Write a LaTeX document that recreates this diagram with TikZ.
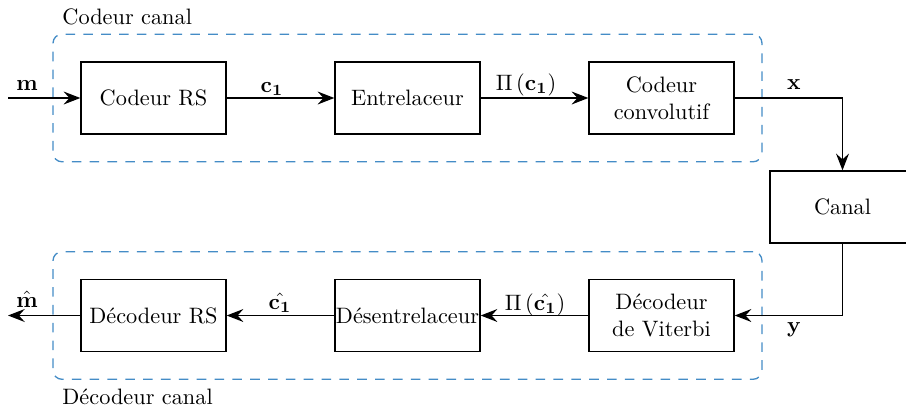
\documentclass[tikz,border=0pt]{standalone}
\usetikzlibrary{arrows.meta}
\definecolor{grpblue}{RGB}{68,140,198}
\begin{document}
\begin{tikzpicture}[x=0.4484pt,y=-0.4484pt,
  blockbox/.style={draw, line width=0.6pt, minimum width=65pt, minimum height=32.3pt, inner sep=0pt, align=center},
  groupbox/.style={draw=grpblue, line width=0.6pt, dash pattern=on 4.3pt off 3.7pt, rounded corners=4pt, minimum width=317.9pt, minimum height=57.2pt, inner sep=0pt},
  conn/.style={line width=0.6pt, -{Stealth[length=7.5pt,width=5.8pt,inset=2.6pt]}},
  lbl/.style={inner sep=0pt, anchor=base},
  grplbl/.style={inner sep=0pt, anchor=west}
]
\useasboundingbox (0,0) rectangle (906,412);
% groups
\node[groupbox] (enc) at (407.5,98) {};
\node[groupbox] (dec) at (407.5,315.5) {};
\node[grplbl] (enclbl) at (62,16.5) {Codeur canal};
\node[grplbl] (declbl) at (62,397) {Décodeur canal};
% blocks
\node[blockbox] (crs) at (153.5,98) {Codeur RS};
\node[blockbox] (ent) at (407.5,98) {Entrelaceur};
\node[blockbox] (cc) at (661.5,98) {Codeur\\convolutif};
\node[blockbox] (canal) at (842.5,207) {Canal};
\node[blockbox] (vit) at (661.5,315.5) {Décodeur\\de Viterbi};
\node[blockbox] (des) at (407.5,315.5) {Désentrelaceur};
\node[blockbox] (drs) at (153.5,315.5) {Décodeur RS};
\coordinate (min) at (8,98);
\coordinate (mout) at (8,315.5);
% connectors
\draw[conn] (min) -- (crs.west);
\draw[conn] (crs) -- (ent);
\draw[conn] (ent) -- (cc);
\draw[conn] (cc.east) -| (canal.north);
\draw[conn] (canal.south) |- (vit.east);
\draw[conn] (vit) -- (des);
\draw[conn] (des) -- (drs);
\draw[conn] (drs.west) -- (mout);
% labels
\node[lbl] (lm) at (27,90) {$\mathbf{m}$};
\node[lbl] (lc1) at (272,92) {$\mathbf{c_1}$};
\node[lbl] (lpc) at (526,90) {$\Pi\left(\mathbf{c_1}\right)$};
\node[lbl] (lx) at (794,89) {$\mathbf{x}$};
\node[lbl] (ly) at (794,332) {$\mathbf{y}$};
\node[lbl] (lphc) at (535,310) {$\Pi\left(\hat{\mathbf{c_1}}\right)$};
\node[lbl] (lhc) at (280,309) {$\hat{\mathbf{c_1}}$};
\node[lbl] (lhm) at (27,307) {$\hat{\mathbf{m}}$};
\end{tikzpicture}
\end{document}
